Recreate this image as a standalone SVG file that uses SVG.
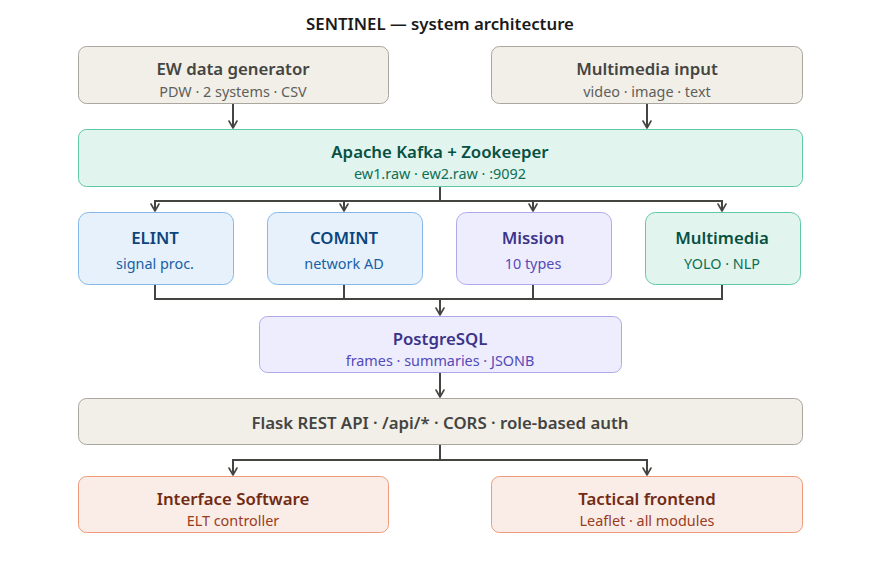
<svg xmlns="http://www.w3.org/2000/svg" width="880" height="569" viewBox="0 0 880 569">
<style>
text{font-family:"Noto Sans","Open Sans","Liberation Sans",sans-serif;text-anchor:middle;dominant-baseline:central}
.t{font-size:16.8px;font-weight:600}
.s{font-size:14.4px;font-weight:400}
.gray rect{fill:#f1efe8;stroke:#a8a69d}
.gray .t{fill:#444441}.gray .s{fill:#5f5e5a}
.teal rect{fill:#e1f5ee;stroke:#5dcaa5}
.teal .t{fill:#085041}.teal .s{fill:#0f6e56}
.blue rect{fill:#e6f1fb;stroke:#85b7eb}
.blue .t{fill:#0c447c}.blue .s{fill:#185fa5}
.purple rect{fill:#eeedfe;stroke:#afa9ec}
.purple .t{fill:#3c3489}.purple .s{fill:#534ab7}
.coral rect{fill:#faece7;stroke:#f0997b}
.coral .t{fill:#712b13}.coral .s{fill:#993c1d}
rect{stroke-width:1}
#connectors path{fill:none;stroke:#444441;stroke-width:2}
</style>
<defs>
<marker id="arr" viewBox="0 0 10 10" refX="8" refY="5" markerWidth="10" markerHeight="10" markerUnits="userSpaceOnUse" orient="auto">
<path d="M1,1 L8,5 L1,9" fill="none" stroke="#444441" stroke-width="1.6" stroke-linecap="round" stroke-linejoin="round"/>
</marker>
</defs>
<text x="440" y="23" style="font-size:16.8px;font-weight:600;fill:#1a1a1a">SENTINEL — system architecture</text>

<g id="connectors">
<path d="M233,103 V128" marker-end="url(#arr)"/>
<path d="M647,103 V128" marker-end="url(#arr)"/>
<path d="M440,186 V201 H155 V211" marker-end="url(#arr)"/>
<path d="M344,201 V211" marker-end="url(#arr)"/>
<path d="M440,201 H533 V211" marker-end="url(#arr)"/>
<path d="M533,201 H722 V211" marker-end="url(#arr)"/>
<path d="M155,284 V299 H722 V284"/>
<path d="M344,284 V299"/>
<path d="M533,284 V299"/>
<path d="M440,299 V315" marker-end="url(#arr)"/>
<path d="M440,372 V397" marker-end="url(#arr)"/>
<path d="M440,444 V460 H233 V475" marker-end="url(#arr)"/>
<path d="M440,460 H647 V475" marker-end="url(#arr)"/>
</g>

<g id="ew" class="gray"><rect x="78.5" y="46.5" width="310" height="57" rx="8"/>
<text class="t" x="233" y="68">EW data generator</text><text class="s" x="233" y="91">PDW · 2 systems · CSV</text></g>
<g id="mm-input" class="gray"><rect x="491.5" y="46.5" width="311" height="57" rx="8"/>
<text class="t" x="647" y="68">Multimedia input</text><text class="s" x="647" y="91">video · image · text</text></g>
<g id="kafka" class="teal"><rect x="78.5" y="129.5" width="724" height="57" rx="8"/>
<text class="t" x="440" y="151">Apache Kafka + Zookeeper</text><text class="s" x="440" y="173">ew1.raw · ew2.raw · :9092</text></g>
<g id="elint" class="blue"><rect x="78.5" y="212.5" width="155" height="72" rx="10"/>
<text class="t" x="155" y="237">ELINT</text><text class="s" x="155" y="263">signal proc.</text></g>
<g id="comint" class="blue"><rect x="267.5" y="212.5" width="155" height="72" rx="10"/>
<text class="t" x="344" y="237">COMINT</text><text class="s" x="344" y="263">network AD</text></g>
<g id="mission" class="purple"><rect x="456.5" y="212.5" width="155" height="72" rx="10"/>
<text class="t" x="533" y="237">Mission</text><text class="s" x="533" y="263">10 types</text></g>
<g id="multimedia" class="teal"><rect x="645.5" y="212.5" width="155" height="72" rx="10"/>
<text class="t" x="722" y="237">Multimedia</text><text class="s" x="722" y="263">YOLO · NLP</text></g>
<g id="postgres" class="purple"><rect x="259.5" y="316.5" width="362" height="56" rx="8"/>
<text class="t" x="440" y="338">PostgreSQL</text><text class="s" x="440" y="360">frames · summaries · JSONB</text></g>
<g id="flask" class="gray"><rect x="78.5" y="398.5" width="724" height="46" rx="8"/>
<text class="t" x="440" y="422">Flask REST API · /api/* · CORS · role-based auth</text></g>
<g id="interface" class="coral"><rect x="78.5" y="476.5" width="310" height="56" rx="8"/>
<text class="t" x="233" y="498">Interface Software</text><text class="s" x="233" y="520">ELT controller</text></g>
<g id="tactical" class="coral"><rect x="491.5" y="476.5" width="311" height="56" rx="8"/>
<text class="t" x="647" y="498">Tactical frontend</text><text class="s" x="647" y="520">Leaflet · all modules</text></g>
</svg>
